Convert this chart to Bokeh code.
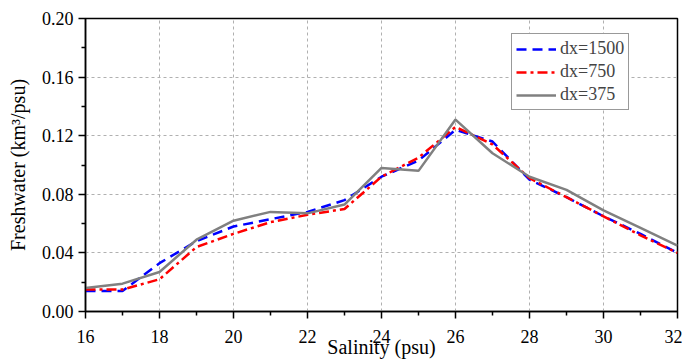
from bokeh.plotting import figure
from bokeh.models import FixedTicker, NumeralTickFormatter, Range1d, Legend, LegendItem
from bokeh.embed import file_html
from bokeh.resources import INLINE

salinity = [16, 17, 18, 19, 20, 21, 22, 23, 24, 25, 26, 27, 28, 29, 30, 31, 32]
dx1500 = [0.014, 0.014, 0.033, 0.048, 0.058, 0.063, 0.068, 0.076, 0.092, 0.103,
          0.124, 0.116, 0.090, 0.078, 0.065, 0.053, 0.040]
dx750 = [0.015, 0.015, 0.022, 0.044, 0.053, 0.061, 0.066, 0.070, 0.092, 0.105,
         0.126, 0.114, 0.091, 0.078, 0.065, 0.052, 0.040]
dx375 = [0.016, 0.019, 0.027, 0.049, 0.062, 0.068, 0.067, 0.073, 0.098, 0.096,
         0.131, 0.108, 0.092, 0.083, 0.069, 0.057, 0.045]
series_names = ["dx=1500", "dx=750", "dx=375"]
x_ticks = [16, 18, 20, 22, 24, 26, 28, 30, 32]
x_minor = [17, 19, 21, 23, 25, 27, 29, 31]
y_ticks = [0.0, 0.04, 0.08, 0.12, 0.16, 0.20]
y_minor = [0.02, 0.06, 0.10, 0.14, 0.18]
x_title = "Salinity (psu)"
y_title = "Freshwater (km³/psu)"

FONT = "Liberation Serif"

p = figure(width=682, height=363, output_backend="svg", toolbar_location=None,
           x_range=Range1d(16, 32), y_range=Range1d(0, 0.20),
           min_border_left=85, min_border_right=5, min_border_top=18, min_border_bottom=52)

r1 = p.line(salinity, dx1500, line_color="#0000ff", line_width=2.5, line_dash="10 6")
r2 = p.line(salinity, dx750, line_color="#ff0000", line_width=2.5, line_dash="10 4 3 4")
r3 = p.line(salinity, dx375, line_color="#808080", line_width=2.5)

legend = Legend(items=[LegendItem(label=series_names[0], renderers=[r1]),
                       LegendItem(label=series_names[1], renderers=[r2]),
                       LegendItem(label=series_names[2], renderers=[r3])],
                location=(426, 201))
legend.label_text_font = FONT
legend.label_text_font_size = "18px"
legend.glyph_width = 40
legend.glyph_height = 20
legend.label_standoff = 4
legend.label_height = 20
legend.spacing = 2
legend.padding = 4
legend.margin = 0
legend.border_line_color = "#333333"
legend.border_line_width = 1.2
legend.background_fill_alpha = 1.0
p.add_layout(legend, "center")

p.outline_line_color = "black"
p.outline_line_width = 1.5
p.background_fill_color = "white"
p.border_fill_color = "white"

p.xaxis.ticker = FixedTicker(ticks=x_ticks, minor_ticks=x_minor)
p.yaxis.ticker = FixedTicker(ticks=y_ticks, minor_ticks=y_minor)
p.yaxis.formatter = NumeralTickFormatter(format="0.00")

p.xaxis.axis_label = x_title
p.yaxis.axis_label = y_title

for ax in (p.xaxis[0], p.yaxis[0]):
    ax.axis_line_color = "black"
    ax.axis_line_width = 1.5
    ax.major_tick_line_color = "black"
    ax.major_tick_line_width = 1.5
    ax.minor_tick_line_color = "black"
    ax.minor_tick_line_width = 1.5
    ax.major_tick_out = 7
    ax.major_tick_in = 0
    ax.minor_tick_out = 4
    ax.minor_tick_in = 0
    ax.major_label_text_font = FONT
    ax.major_label_text_font_size = "18px"
    ax.major_label_text_color = "black"
    ax.axis_label_text_font = FONT
    ax.axis_label_text_font_size = "20px"
    ax.axis_label_text_font_style = "normal"
    ax.axis_label_text_color = "black"

p.xaxis.major_label_standoff = 11
p.xaxis.axis_label_standoff = -10
p.yaxis.major_label_standoff = 5
p.yaxis.axis_label_standoff = 10

p.grid.grid_line_color = "#b0b0b0"
p.grid.grid_line_dash = "3 3"
p.grid.grid_line_width = 1

open("out.html", "w").write(file_html(p, INLINE))
